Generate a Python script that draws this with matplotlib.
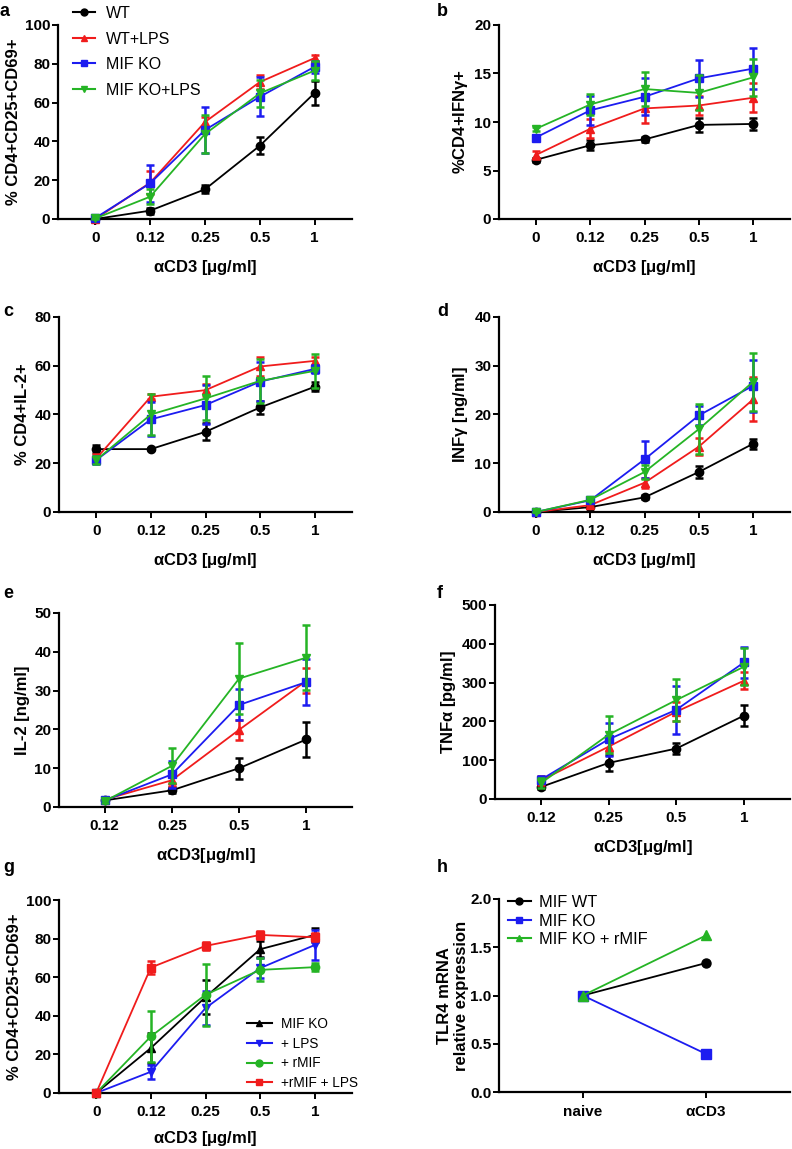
import matplotlib
matplotlib.use('Agg')
import matplotlib.pyplot as plt
from matplotlib.lines import Line2D
import numpy as np

plt.rcParams['font.family'] = ['Liberation Sans', 'DejaVu Sans']
plt.rcParams['font.weight'] = 'bold'
plt.rcParams['mathtext.default'] = 'regular'

# ---- data ----
doses5 = ['0', '0.12', '0.25', '0.5', '1']
doses4 = ['0.12', '0.25', '0.5', '1']
groups = ['WT', 'WT+LPS', 'MIF KO', 'MIF KO+LPS']

# a: % CD4+CD25+CD69+
a_mean = [[0, 4.3, 15.3, 37.8, 65.0],
          [0, 18.7, 50.0, 70.6, 83.0],
          [0.5, 18.4, 45.9, 63.0, 78.5],
          [0.3, 11.5, 43.8, 64.8, 76.5]]
a_err = [[0.3, 1.5, 2.0, 4.5, 6.0],
         [0.3, 6.0, 2.5, 3.5, 1.5],
         [0.3, 9.5, 12.0, 10.0, 3.0],
         [0.3, 4.0, 10.0, 7.0, 5.0]]

# b: %CD4+IFNg+
b_mean = [[6.1, 7.6, 8.2, 9.7, 9.8],
          [6.6, 9.3, 11.4, 11.7, 12.5],
          [8.4, 11.2, 12.6, 14.5, 15.5],
          [9.3, 11.8, 13.4, 13.0, 14.6]]
b_err = [[0.2, 0.5, 0.3, 0.7, 0.6],
         [0.4, 1.0, 1.5, 1.0, 1.5],
         [0.3, 1.5, 1.9, 1.9, 2.1],
         [0.2, 1.1, 1.8, 1.8, 1.9]]

# c: % CD4+IL-2+
c_mean = [[25.8, 25.8, 32.9, 42.9, 51.4],
          [21.9, 47.3, 50.0, 59.7, 62.0],
          [21.3, 38.0, 43.9, 53.5, 58.7],
          [21.3, 40.0, 46.6, 53.8, 57.9]]
c_err = [[1.5, 0.5, 3.5, 2.5, 1.8],
         [2.0, 1.0, 2.5, 4.0, 1.5],
         [1.5, 7.0, 8.0, 8.0, 1.5],
         [1.5, 8.5, 9.0, 9.0, 7.0]]

# d: INFg [ng/ml]
d_mean = [[0, 1.0, 3.0, 8.2, 14.0],
          [0, 1.4, 6.0, 13.4, 23.1],
          [0, 2.4, 10.8, 19.8, 25.9],
          [0, 2.5, 8.2, 17.0, 26.7]]
d_err = [[0.1, 0.2, 0.4, 1.3, 1.0],
         [0.1, 0.3, 1.0, 1.8, 4.5],
         [0.1, 0.3, 3.8, 2.0, 5.3],
         [0.1, 0.3, 1.5, 5.2, 6.0]]

# e: IL-2 [ng/ml]
e_mean = [[1.7, 4.3, 10.0, 17.4],
          [1.9, 6.9, 19.9, 32.5],
          [1.7, 8.4, 26.3, 32.2],
          [1.5, 10.6, 33.1, 38.5]]
e_err = [[0.4, 0.8, 2.7, 4.5],
         [0.5, 1.5, 2.6, 3.2],
         [0.4, 3.5, 4.0, 6.0],
         [0.4, 4.5, 9.2, 8.3]]

# f: TNFa [pg/ml]
f_mean = [[31, 93, 130, 215],
          [48, 135, 225, 305],
          [50, 154, 230, 352],
          [41, 166, 255, 341]]
f_err = [[5, 20, 15, 28],
         [12, 15, 25, 22],
         [8, 42, 62, 40],
         [12, 48, 55, 48]]

# g: % CD4+CD25+CD69+ with rMIF
g_groups = ['MIF KO', '+ LPS', '+ rMIF', '+rMIF + LPS']
g_mean = [[0, 23.3, 49.7, 74.5, 81.9],
          [0, 11.0, 44.0, 64.7, 76.7],
          [0, 29.3, 50.9, 63.8, 65.2],
          [0, 65.0, 76.2, 81.9, 80.7]]
g_err = [[0.3, 8.0, 9.0, 4.0, 3.5],
         [0.3, 3.5, 9.0, 5.0, 8.0],
         [0.3, 13.0, 16.0, 6.0, 2.0],
         [0.3, 3.5, 2.0, 2.0, 2.0]]

# h: TLR4 mRNA relative expression
h_cats = ['naive', r'$\alpha$CD3']
h_groups = ['MIF WT', 'MIF KO', 'MIF KO + rMIF']
h_vals = [[1.0, 1.337],
          [1.0, 0.394],
          [1.0, 1.623]]

# ---- styles ----
BLACK, RED, BLUE, GREEN = 'black', '#f01c1c', '#1c1cf0', '#25b425'
colors4 = [BLACK, RED, BLUE, GREEN]
markers4 = ['o', '^', 's', 'v']
g_colors = [BLACK, BLUE, GREEN, RED]
g_markers = ['^', 'v', 'o', 's']
h_colors = [BLACK, BLUE, GREEN]
h_markers = ['o', 's', '^']

W, H = 792, 1149
fig = plt.figure(figsize=(W / 100, H / 100), dpi=100)


def make_axes(left, right, top, bottom):
    return fig.add_axes([left / W, 1 - bottom / H, (right - left) / W, (bottom - top) / H])


def style(ax, ymax, yticks, xlabels, xlabel, ylabel):
    n = len(xlabels)
    ax.set_xlim(-0.68, n - 1 + 0.68)
    ax.set_ylim(0, ymax)
    ax.set_yticks(yticks)
    ax.set_xticks(np.arange(n))
    ax.set_xticklabels(xlabels)
    for s in ['top', 'right']:
        ax.spines[s].set_visible(False)
    for s in ['left', 'bottom']:
        ax.spines[s].set_linewidth(1.6)
    ax.tick_params(width=1.4, length=4, labelsize=11, direction='out')
    ax.tick_params(axis='x', pad=5)
    ax.tick_params(axis='y', pad=1.5)
    for lab in ax.get_xticklabels() + ax.get_yticklabels():
        lab.set_fontweight('bold')
    ax.set_xlabel(xlabel, fontsize=12, fontweight='bold', labelpad=9)
    ax.set_ylabel(ylabel, fontsize=12, fontweight='bold', labelpad=3)


def draw(ax, means, errs, cols, marks, order):
    x = np.arange(len(means[0]))
    for i in order:
        ax.errorbar(x, means[i], yerr=errs[i], color=cols[i], marker=marks[i], ms=6,
                    lw=1.3, elinewidth=1.8, capsize=3, capthick=1.8,
                    clip_on=False, zorder=3 + i)


def add_legend(ax, cols, marks, labels, x, y, size, hl, htp, ls):
    handles = [Line2D([], [], color=c, marker=m, ms=5, lw=1.5) for c, m in zip(cols, marks)]
    ax.legend(handles, labels, loc='upper left', bbox_to_anchor=(x / W, 1 - y / H),
              bbox_transform=fig.transFigure, frameon=False, borderpad=0, borderaxespad=0,
              handlelength=hl, handletextpad=htp, labelspacing=ls,
              prop={'weight': 'normal', 'size': size})


xl = r'$\alpha$CD3 [$\mu$g/ml]'
xl2 = r'$\alpha$CD3[$\mu$g/ml]'

# a
ax = make_axes(58, 352, 25, 219)
draw(ax, a_mean, a_err, colors4, markers4, [0, 2, 3, 1])
style(ax, 100, [0, 20, 40, 60, 80, 100], doses5, xl, '% CD4+CD25+CD69+')
add_legend(ax, colors4, markers4, groups, 73, 6, 11.5, 1.4, 0.65, 0.66)

# b
ax = make_axes(499, 790, 25, 219)
draw(ax, b_mean, b_err, colors4, markers4, [0, 1, 2, 3])
style(ax, 20, [0, 5, 10, 15, 20], doses5, xl, r'%CD4+IFN$\gamma$+')

# c
ax = make_axes(59, 352, 317, 512)
draw(ax, c_mean, c_err, colors4, markers4, [0, 2, 3, 1])
style(ax, 80, [0, 20, 40, 60, 80], doses5, xl, '% CD4+IL-2+')

# d
ax = make_axes(499, 790, 317, 512)
draw(ax, d_mean, d_err, colors4, markers4, [0, 1, 3, 2])
style(ax, 40, [0, 10, 20, 30, 40], doses5, xl, r'INF$\gamma$ [ng/ml]')

# e
ax = make_axes(59, 352, 613, 807)
draw(ax, e_mean, e_err, colors4, markers4, [0, 2, 3, 1])
style(ax, 50, [0, 10, 20, 30, 40, 50], doses4, xl2, 'IL-2 [ng/ml]')

# f
ax = make_axes(495, 790, 605, 799)
draw(ax, f_mean, f_err, colors4, markers4, [0, 2, 3, 1])
style(ax, 500, [0, 100, 200, 300, 400, 500], doses4, xl2, r'TNF$\alpha$ [pg/ml]')

# g
ax = make_axes(59, 352, 900, 1093)
draw(ax, g_mean, g_err, g_colors, g_markers, [0, 1, 2, 3])
style(ax, 100, [0, 20, 40, 60, 80, 100], doses5, xl, '% CD4+CD25+CD69+')
ax.xaxis.labelpad = 7
add_legend(ax, g_colors, g_markers, g_groups, 247, 1017, 9.8, 1.8, 0.7, 0.42)

# h
ax = make_axes(499, 790, 899, 1092)
xh = np.arange(2)
for vals, c, m in zip(h_vals, h_colors, h_markers):
    ax.plot(xh, vals, color=c, marker=m, ms=6.5, lw=1.3, clip_on=False)
style(ax, 2.0, [0.0, 0.5, 1.0, 1.5, 2.0], h_cats, '', 'TLR4 mRNA\nrelative expression')
ax.set_xlim(-0.68, 1.68)
ax.set_yticklabels(['0.0', '0.5', '1.0', '1.5', '2.0'], fontweight='bold')
ax.yaxis.label.set_linespacing(1.15)
ax.yaxis.labelpad = 1
add_legend(ax, h_colors, h_markers, h_groups, 508, 895, 11.8, 1.4, 0.5, 0.22)

# panel letters
for lab, x, y in [('a', 0, 12), ('b', 437, 12), ('c', 3, 312), ('d', 437, 312),
                  ('e', 3, 593), ('f', 437, 593), ('g', 3, 867), ('h', 437, 867)]:
    fig.text(x / W, 1 - y / H, lab, fontsize=13, fontweight='bold', va='center', ha='left')

fig.savefig('out.png', dpi=100)
